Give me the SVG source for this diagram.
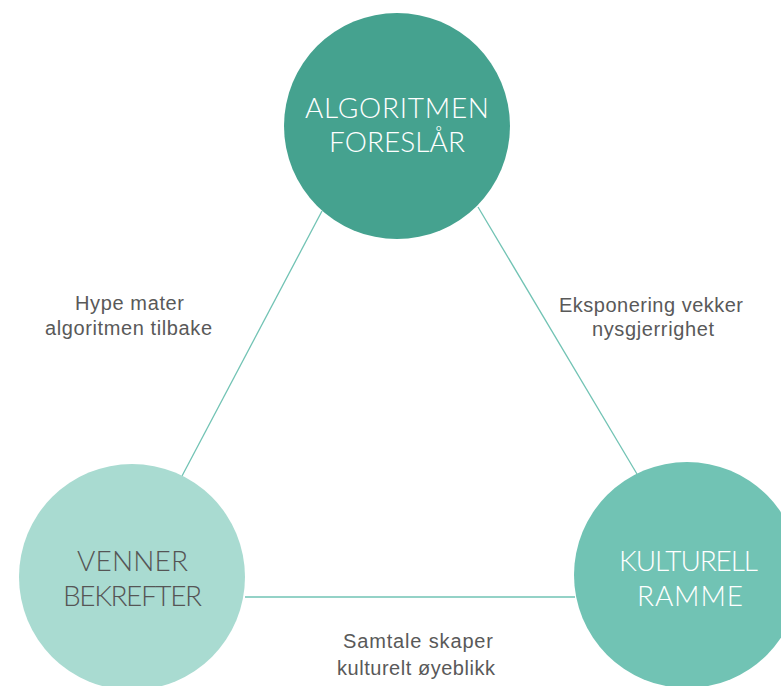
<svg xmlns="http://www.w3.org/2000/svg" width="781" height="686" viewBox="0 0 781 686">
<style>
.ct{font-family:Lato,"Open Sans","DejaVu Sans",sans-serif;font-size:28px;font-weight:300;text-anchor:middle;}
.lt{font-family:"Liberation Sans",Arial,sans-serif;font-size:20px;fill:#595959;text-anchor:middle;}
.ln{stroke:#71C3B4;stroke-width:1.3;fill:none;}
</style>
<rect width="781" height="686" fill="#ffffff"/>
<g id="connectors">
<line class="ln" x1="322" y1="211" x2="182" y2="476"/>
<line class="ln" x1="478" y1="207" x2="637" y2="474"/>
<line class="ln" x1="245" y1="597" x2="575" y2="597"/>
</g>
<g id="node-algoritmen">
<circle cx="397" cy="126" r="113" fill="#45A28F"/>
<text class="ct" fill="#ffffff" x="397" y="118" textLength="184" lengthAdjust="spacing">ALGORITMEN</text>
<text class="ct" fill="#ffffff" x="397" y="152" textLength="136" lengthAdjust="spacing">FORESLÅR</text>
</g>
<g id="node-venner">
<circle cx="132" cy="577" r="113" fill="#A9DBD1"/>
<text class="ct" fill="#555555" x="132.5" y="571" textLength="111" lengthAdjust="spacing">VENNER</text>
<text class="ct" fill="#555555" x="132.5" y="606" textLength="139" lengthAdjust="spacing">BEKREFTER</text>
</g>
<g id="node-kulturell">
<circle cx="687" cy="575" r="113" fill="#71C3B4"/>
<text class="ct" fill="#ffffff" x="688.5" y="571" textLength="139" lengthAdjust="spacing">KULTURELL</text>
<text class="ct" fill="#ffffff" x="690" y="606" textLength="106" lengthAdjust="spacing">RAMME</text>
</g>
<g id="labels">
<text class="lt" x="129.5" y="310" textLength="109" lengthAdjust="spacing">Hype mater</text>
<text class="lt" x="128.5" y="335" textLength="167" lengthAdjust="spacing">algoritmen tilbake</text>
<text class="lt" x="651" y="312" textLength="184" lengthAdjust="spacing">Eksponering vekker</text>
<text class="lt" x="653" y="336" textLength="122" lengthAdjust="spacing">nysgjerrighet</text>
<text class="lt" x="418" y="648" textLength="150" lengthAdjust="spacing">Samtale skaper</text>
<text class="lt" x="416" y="675" textLength="158" lengthAdjust="spacing">kulturelt øyeblikk</text>
</g>
</svg>
